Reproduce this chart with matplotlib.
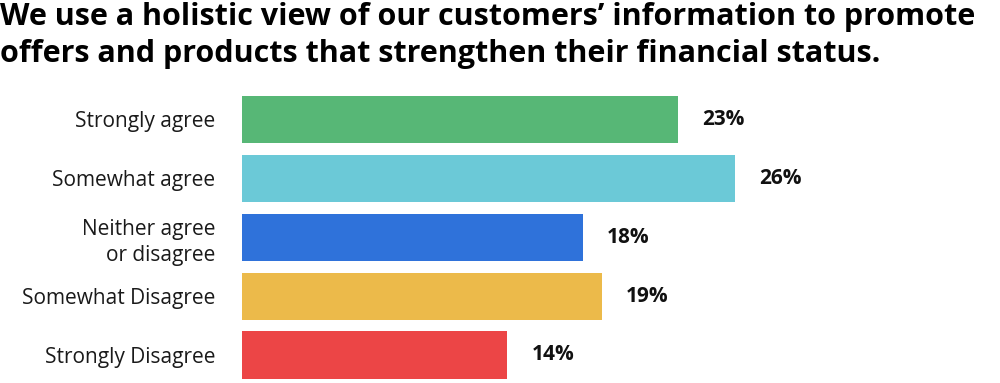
import matplotlib
matplotlib.use("Agg")
import matplotlib.pyplot as plt
from matplotlib.transforms import offset_copy

TITLE = ("We use a holistic view of our customers\u2019 information to promote\n"
         "offers and products that strengthen their financial status.")

CATEGORIES = [
    "Strongly agree",
    "Somewhat agree",
    "Neither agree\nor disagree",
    "Somewhat Disagree",
    "Strongly Disagree",
]
VALUES = [23, 26, 18, 19, 14]
COLORS = ["#57b776", "#6bc9d7", "#2f72da", "#ecba4a", "#ec4546"]

plt.rcParams["font.family"] = ["Open Sans", "DejaVu Sans"]


def main():
    fig = plt.figure(figsize=(10, 3.83), dpi=100)
    ax = fig.add_axes([0.242, 0.004, 0.758, 0.761])

    positions = range(len(CATEGORIES))
    ax.barh(positions, VALUES, height=0.8, color=COLORS)

    ax.set_xlim(0, 40)
    ax.set_ylim(4.45, -0.5)

    ax.set_yticks(list(positions))
    ax.set_yticklabels(CATEGORIES, fontsize=15, color="#1a1a1a",
                       linespacing=1.3)
    ax.tick_params(axis="y", length=0, pad=19)
    ax.set_xticks([])
    for spine in ax.spines.values():
        spine.set_visible(False)

    label_trans = offset_copy(ax.transData, fig=fig, x=24, y=0, units="dots")
    for i, v in enumerate(VALUES):
        ax.text(v, i, f"{v}%", transform=label_trans, ha="left",
                va="center", fontsize=15, fontweight="bold",
                color="#111111")

    fig.text(0.0, 0.995, TITLE, ha="left", va="top", fontsize=22,
             fontweight="bold", color="#000000", linespacing=1.3)

    fig.savefig("out.png", dpi=100)
    plt.close(fig)


if __name__ == "__main__":
    main()
